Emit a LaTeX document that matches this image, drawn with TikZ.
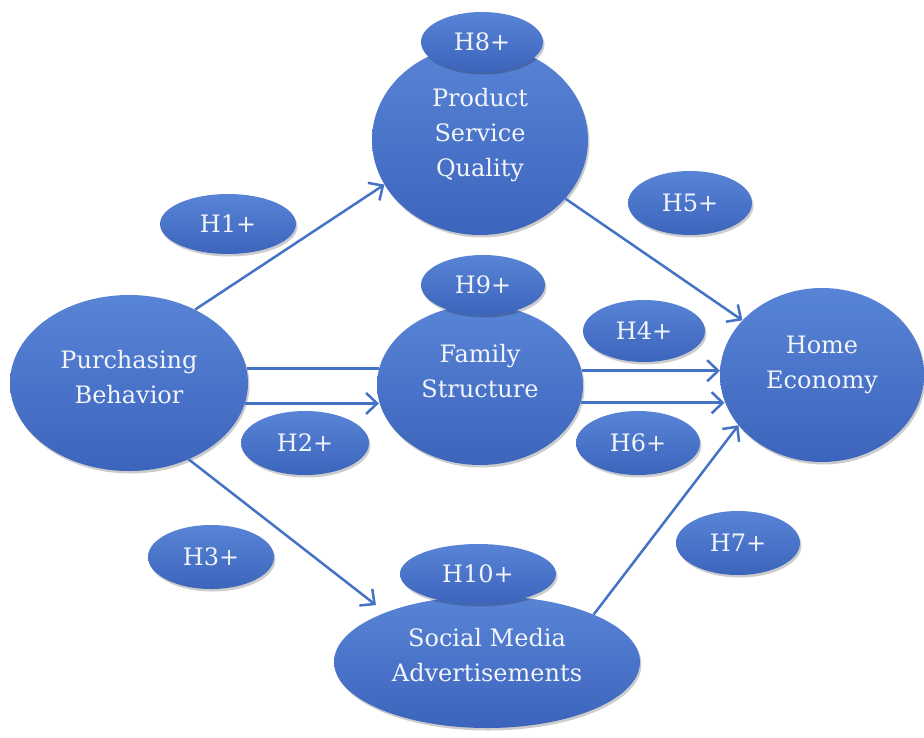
\documentclass[tikz,border=0pt]{standalone}
\usepackage{fontspec}
\setmainfont{DejaVu Serif}
\usetikzlibrary{shapes.geometric,arrows.meta,shadows,calc}
\definecolor{ellTop}{RGB}{88,132,214}
\definecolor{ellBot}{RGB}{60,100,188}
\definecolor{lineBlue}{RGB}{68,114,196}
\definecolor{txtWhite}{RGB}{242,245,250}
\begin{document}
\begin{tikzpicture}[x=1pt,y=-1pt,
  ell/.style={ellipse, inner sep=0pt, draw=none, top color=ellTop, bottom color=ellBot,
    drop shadow={shadow xshift=1.5pt, shadow yshift=-2.5pt, opacity=0.2, fill=black}},
  lbl/.style={text=txtWhite, font=\fontsize{24}{35}\selectfont, align=center, inner sep=0pt},
  conn/.style={draw=lineBlue, line width=2.5pt,
    -{Straight Barb[length=11pt,width=21pt,line width=2.5pt]}},
  plainline/.style={draw=lineBlue, line width=2.5pt}]
\useasboundingbox (0,0) rectangle (924,737);
\fill[white] (0,0) rectangle (924,737);

% main ellipses
\node[ell, minimum width=238pt, minimum height=176pt] (pb) at (129,383) {};
\node[ell, minimum width=216pt, minimum height=190pt] (psq) at (480,140) {};
\node[ell, minimum width=206pt, minimum height=160pt] (fs) at (480,385) {};
\node[ell, minimum width=204pt, minimum height=174pt] (he) at (822,375) {};
\node[ell, minimum width=306pt, minimum height=132pt] (sma) at (487,662) {};

\node[lbl] (pbt) at (129,377) {Purchasing\\Behavior};
\node[lbl] (psqt) at (480,135) {Product\\Service\\Quality};
\node[lbl] (fst) at (480,371) {Family\\Structure};
\node[lbl] (het) at (822,365) {Home\\Economy};
\node[lbl] (smat) at (487,655) {Social Media\\Advertisements};

% connectors
\draw[conn] (pb.48) -- (psq.205);
\draw[plainline] (pb.7.3) -- (fs.170.4 |- pb.7.3);
\draw[conn] (pb.350.7) -- (fs.189.6 |- pb.350.7);
\draw[conn, shorten >=12pt] (pb.308) -- (sma.154);
\draw[conn] (psq) -- (he);
\draw[conn] (fs.8.4) -- (he.177 |- fs.8.4);
\draw[conn] (fs.350.6) -- (he.195.6 |- fs.350.6);
\draw[conn] (sma.24) -- (he.211);

% hypothesis labels
\node[ell, lbl, minimum width=122pt, minimum height=60pt] (h8) at (482,42) {H8+};
\node[ell, lbl, minimum width=124pt, minimum height=60pt] (h9) at (483,285) {H9+};
\node[ell, lbl, minimum width=156pt, minimum height=60pt] (h10) at (478,574) {H10+};
\node[ell, lbl, minimum width=136pt, minimum height=60pt] (h1) at (228,224) {H1+};
\node[ell, lbl, minimum width=128pt, minimum height=64pt] (h2) at (305,443) {H2+};
\node[ell, lbl, minimum width=126pt, minimum height=64pt] (h3) at (211,557) {H3+};
\node[ell, lbl, minimum width=122pt, minimum height=62pt] (h4) at (644,331) {H4+};
\node[ell, lbl, minimum width=124pt, minimum height=64pt] (h5) at (690,203) {H5+};
\node[ell, lbl, minimum width=124pt, minimum height=64pt] (h6) at (638,443) {H6+};
\node[ell, lbl, minimum width=124pt, minimum height=64pt] (h7) at (738,543) {H7+};
\end{tikzpicture}
\end{document}
